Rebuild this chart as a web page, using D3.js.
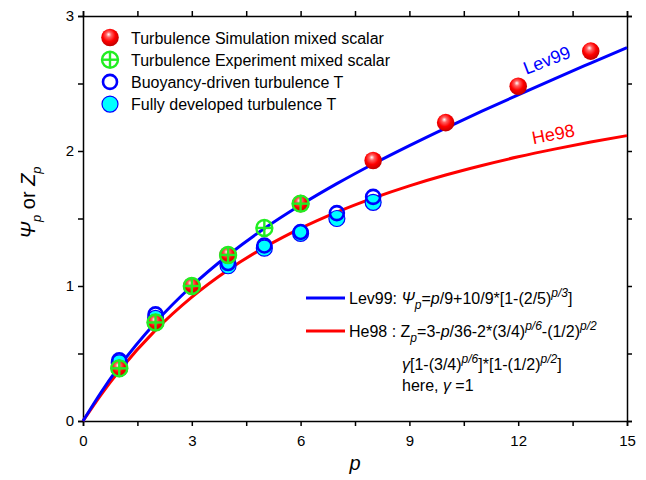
<!DOCTYPE html>
<html>
<head>
<meta charset="utf-8">
<script src="https://cdn.jsdelivr.net/npm/d3@7"></script>
<style>
  body { margin: 0; background: #fff; }
  text { font-family: "Liberation Sans", Arial, sans-serif; }
</style>
</head>
<body>
<div id="viz"></div>
<script>
// model curves
const curveP = [0, 0.5, 1, 2, 3, 4, 5, 6, 7, 8, 9, 10, 11, 12, 13, 14, 15];
const lev99Vals = [0, 0.213, 0.404, 0.730, 1.000, 1.228, 1.426, 1.600, 1.758, 1.904, 2.040, 2.170, 2.295, 2.416, 2.535, 2.651, 2.766];
const he98Vals = [0, 0.196, 0.372, 0.673, 0.918, 1.119, 1.286, 1.427, 1.547, 1.651, 1.742, 1.822, 1.893, 1.957, 2.014, 2.066, 2.114];

// measured points
const simP = [1, 2, 3, 4, 6, 8, 10, 12, 14];
const simVals = [0.39, 0.73, 1.00, 1.23, 1.61, 1.93, 2.21, 2.48, 2.74];
const expP = [1, 2, 3, 4, 5, 6];
const expVals = [0.39, 0.73, 1.00, 1.23, 1.43, 1.61];
const buoyP = [1, 2, 4, 5, 6, 7, 8];
const buoyVals = [0.45, 0.79, 1.17, 1.30, 1.40, 1.54, 1.66];
const fullP = [1, 2, 4, 5, 6, 7, 8];
const fullVals = [0.43, 0.76, 1.15, 1.28, 1.39, 1.50, 1.62];

const legendLabels = ["Turbulence Simulation mixed scalar", "Turbulence Experiment mixed scalar",
                      "Buoyancy-driven turbulence T", "Fully developed turbulence T"];
const xTicks = [0, 3, 6, 9, 12, 15];
const yTicks = [0, 1, 2, 3];

const fullWidth = 646, fullHeight = 480;
const margin = { top: 16, right: 19, bottom: 59, left: 83 };
const width = fullWidth - margin.left - margin.right;
const height = fullHeight - margin.top - margin.bottom;

const svg = d3.select("#viz").append("svg")
  .attr("width", fullWidth)
  .attr("height", fullHeight);

const defs = svg.append("defs");
const grad = defs.append("radialGradient")
  .attr("id", "redBall")
  .attr("cx", "45%").attr("cy", "40%").attr("r", "60%")
  .attr("fx", "42%").attr("fy", "32%");
grad.append("stop").attr("offset", "0%").attr("stop-color", "#ffffff");
grad.append("stop").attr("offset", "25%").attr("stop-color", "#ff6060");
grad.append("stop").attr("offset", "60%").attr("stop-color", "#ff0000");
grad.append("stop").attr("offset", "100%").attr("stop-color", "#c00000");

const g = svg.append("g")
  .attr("transform", `translate(${margin.left},${margin.top})`);

const xScale = d3.scaleLinear().domain([0, 15]).range([0, width]);
const yScale = d3.scaleLinear().domain([0, 3]).range([height, 0]);

// axes
const minorX = d3.range(0, 15.01, 1.5);
const minorY = d3.range(0, 3.01, 0.5);

function styleAxis(sel) {
  sel.select(".domain").attr("stroke", "#000").attr("stroke-width", 1.5);
  sel.selectAll(".tick line").attr("stroke", "#000").attr("stroke-width", 1.5);
  sel.selectAll("text").style("font-size", "15px").attr("fill", "#000")
    .style("font-family", "Liberation Sans, Arial, sans-serif");
}

const xAxis = g.append("g").attr("transform", `translate(0,${height})`)
  .call(d3.axisBottom(xScale).tickValues(minorX).tickSizeOuter(0).tickSize(5)
    .tickFormat(d => xTicks.includes(d) ? d : ""));
styleAxis(xAxis);
xAxis.selectAll("text").attr("dy", "1.1em");

const yAxis = g.append("g")
  .call(d3.axisLeft(yScale).tickValues(minorY).tickSizeOuter(0).tickSize(5)
    .tickFormat(d => yTicks.includes(d) ? d : ""));
styleAxis(yAxis);
yAxis.selectAll("text").attr("x", -9);

const xTop = g.append("g")
  .call(d3.axisTop(xScale).tickValues(minorX).tickSizeOuter(0).tickSize(5).tickFormat(""));
styleAxis(xTop);
const yRight = g.append("g").attr("transform", `translate(${width},0)`)
  .call(d3.axisRight(yScale).tickValues(minorY).tickSizeOuter(0).tickSize(5).tickFormat(""));
styleAxis(yRight);

// axis titles
g.append("text")
  .attr("x", width / 2)
  .attr("y", height + 49)
  .attr("text-anchor", "middle")
  .style("font-size", "20px")
  .style("font-style", "italic")
  .text("p");

const yTitle = g.append("text")
  .attr("transform", `translate(${-48},${height / 2 - 16}) rotate(-90)`)
  .attr("text-anchor", "middle")
  .style("font-size", "20px");
yTitle.append("tspan").style("font-style", "italic").text("Ψ");
yTitle.append("tspan").attr("dy", 6).style("font-size", "13px").style("font-style", "italic").text("p");
yTitle.append("tspan").attr("dy", -6).text(" or ");
yTitle.append("tspan").style("font-style", "italic").text("Z");
yTitle.append("tspan").attr("dy", 6).style("font-size", "13px").style("font-style", "italic").text("p");

// curves
const line = d3.line()
  .x((d, i) => xScale(curveP[i]))
  .y(d => yScale(d))
  .curve(d3.curveMonotoneX);

g.append("path").datum(he98Vals)
  .attr("fill", "none").attr("stroke", "#ff0000").attr("stroke-width", 3)
  .attr("d", line);
g.append("path").datum(lev99Vals)
  .attr("fill", "none").attr("stroke", "#0000ff").attr("stroke-width", 3)
  .attr("d", line);

// curve labels
g.append("text")
  .attr("transform", `translate(${xScale(12.85)},${yScale(2.63)}) rotate(-21)`)
  .attr("text-anchor", "middle")
  .attr("fill", "#0000ff")
  .style("font-size", "18px")
  .text("Lev99");
g.append("text")
  .attr("transform", `translate(${xScale(13.0)},${yScale(2.08)}) rotate(-11)`)
  .attr("text-anchor", "middle")
  .attr("fill", "#ff0000")
  .style("font-size", "18px")
  .text("He98");

// marker drawers
const r = 8;
function drawFull(sel, x, y) {
  sel.append("circle").attr("cx", x).attr("cy", y).attr("r", r)
    .attr("fill", "#00ffff").attr("stroke", "#0000ff").attr("stroke-width", 1.2);
}
function drawBuoy(sel, x, y) {
  sel.append("circle").attr("cx", x).attr("cy", y).attr("r", r - 1)
    .attr("fill", "none").attr("stroke", "#0000ff").attr("stroke-width", 2.6);
}
function drawSim(sel, x, y) {
  sel.append("circle").attr("cx", x).attr("cy", y).attr("r", r + 0.8)
    .attr("fill", "url(#redBall)");
}
function drawExp(sel, x, y) {
  sel.append("circle").attr("cx", x).attr("cy", y).attr("r", r)
    .attr("fill", "none").attr("stroke", "#22ee22").attr("stroke-width", 2.4);
  sel.append("line").attr("x1", x - r).attr("x2", x + r).attr("y1", y).attr("y2", y)
    .attr("stroke", "#22ee22").attr("stroke-width", 2.4);
  sel.append("line").attr("x1", x).attr("x2", x).attr("y1", y - r).attr("y2", y + r)
    .attr("stroke", "#22ee22").attr("stroke-width", 2.4);
}

const pts = g.append("g");
fullP.forEach((p, i) => drawFull(pts, xScale(p), yScale(fullVals[i])));
buoyP.forEach((p, i) => drawBuoy(pts, xScale(p), yScale(buoyVals[i])));
simP.forEach((p, i) => drawSim(pts, xScale(p), yScale(simVals[i])));
expP.forEach((p, i) => drawExp(pts, xScale(p), yScale(expVals[i])));

// top-left legend
const drawers = [drawSim, drawExp, drawBuoy, drawFull];
const legend = svg.append("g");
legendLabels.forEach((lab, i) => {
  const cy = 37.5 + i * 22.2;
  drawers[i](legend, 110, cy);
  legend.append("text")
    .attr("x", 131)
    .attr("y", cy + 6)
    .style("font-size", "16px")
    .text(lab);
});

// formula legend
function richText(sel, x, y, parts) {
  const t = sel.append("text").attr("x", x).attr("y", y).style("font-size", "16px");
  let shift = 0;
  parts.forEach(pt => {
    const target = pt.sub ? 5 : pt.sup ? -7 : 0;
    const ts = t.append("tspan").attr("dy", target - shift).text(pt.t);
    shift = target;
    if (pt.i) ts.style("font-style", "italic");
    if (pt.sub || pt.sup) ts.style("font-size", "12px");
  });
  return t;
}

const fl = svg.append("g");
fl.append("line").attr("x1", 306).attr("x2", 345).attr("y1", 298).attr("y2", 298)
  .attr("stroke", "#0000ff").attr("stroke-width", 3);
fl.append("line").attr("x1", 306).attr("x2", 345).attr("y1", 331).attr("y2", 331)
  .attr("stroke", "#ff0000").attr("stroke-width", 3);

richText(fl, 349, 304, [
  { t: "Lev99:  " }, { t: "Ψ", i: true }, { t: "p", i: true, sub: true },
  { t: "=" }, { t: "p", i: true }, { t: "/9+10/9*[1-(2/5)" },
  { t: "p/3", i: true, sup: true }, { t: "]" }
]);
richText(fl, 349, 337, [
  { t: "He98 : Z" }, { t: "p", i: true, sub: true },
  { t: "=3-" }, { t: "p", i: true }, { t: "/36-2*(3/4)" },
  { t: "p/6", i: true, sup: true }, { t: "-(1/2)" }, { t: "p/2", i: true, sup: true }
]);
richText(fl, 402, 370, [
  { t: "γ", i: true }, { t: "[1-(3/4)" }, { t: "p/6", i: true, sup: true },
  { t: "]*[1-(1/2)" }, { t: "p/2", i: true, sup: true }, { t: "]" }
]);
richText(fl, 402, 391, [
  { t: "here, " }, { t: "γ", i: true }, { t: " =1" }
]);
</script>
</body>
</html>
